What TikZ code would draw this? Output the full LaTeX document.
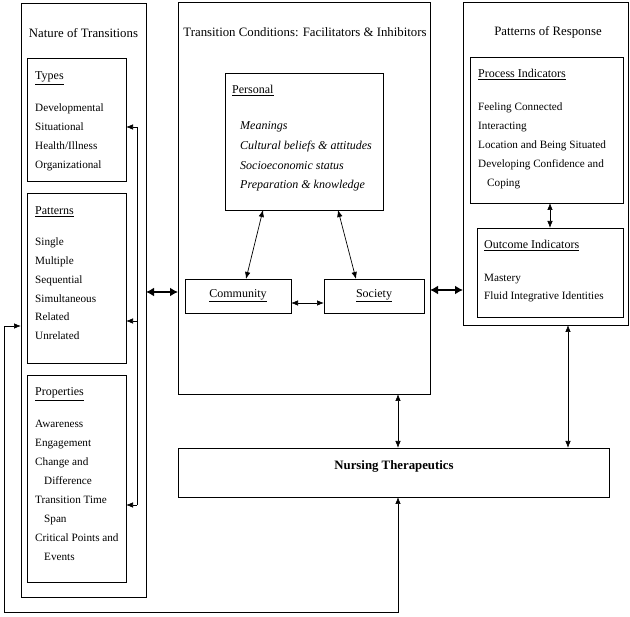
\documentclass[tikz,border=0pt]{standalone}
\usepackage{fontspec}
\setmainfont{Liberation Serif}
\usetikzlibrary{arrows.meta}
\begin{document}
\begin{tikzpicture}[x=1pt,y=-1pt,
  box/.style={draw, line width=0.8pt, inner sep=0pt, outer sep=0pt, anchor=north west},
  ttl/.style={anchor=base, inner sep=0pt, font=\fontsize{12.8}{15}\selectfont},
  hd/.style={anchor=base west, inner sep=0pt, font=\fontsize{12}{14}\selectfont},
  itm/.style={anchor=base west, inner sep=0pt, font=\fontsize{11.2}{13}\selectfont},
  itl/.style={anchor=base west, inner sep=0pt, font=\fontsize{12}{14}\selectfont\itshape},
  arr/.style={-{Latex[length=7pt,width=5.5pt]}, line width=0.7pt},
  dbl/.style={{Latex[length=7pt,width=5.5pt]}-{Latex[length=7pt,width=5.5pt]}, line width=0.7pt},
  bigdbl/.style={{Latex[length=8pt,width=9pt]}-{Latex[length=8pt,width=9pt]}, line width=1.6pt}]
\useasboundingbox (0,0) rectangle (630,617);

% ---- boxes
\node[box, minimum width=125pt, minimum height=594pt] (left) at (21,3) {};
\node[box, minimum width=99pt, minimum height=123pt] (types) at (27,58) {};
\node[box, minimum width=99pt, minimum height=170pt] (patt) at (27,193) {};
\node[box, minimum width=99pt, minimum height=207pt] (prop) at (27,375) {};
\node[box, minimum width=252pt, minimum height=392pt] (mid) at (178,2) {};
\node[box, minimum width=158pt, minimum height=137pt] (pers) at (225,73) {};
\node[box, minimum width=106pt, minimum height=34pt, font=\fontsize{12}{14}\selectfont] (comm) at (185,279) {\underline{Community}};
\node[box, minimum width=100pt, minimum height=34pt, font=\fontsize{12}{14}\selectfont] (soc) at (324,279) {\underline{Society}};
\node[box, minimum width=165pt, minimum height=323pt] (right) at (463,2) {};
\node[box, minimum width=153pt, minimum height=146pt] (proc) at (470,57) {};
\node[box, minimum width=146pt, minimum height=89pt] (outc) at (477,228) {};
\node[box, minimum width=431pt, minimum height=49pt] (nurse) at (178,448) {};

% ---- texts
\node[ttl] (tl) at (83.5,38) {Nature of Transitions};
\node[hd] (htypes) at (35,80) {\underline{Types}};
\foreach \t [count=\i from 0] in {Developmental,Situational,Health/Illness,Organizational}
  \node[itm] (ty\i) at (35,112+18.8*\i) {\t};
\node[hd] (hpatt) at (35,215) {\underline{Patterns}};
\foreach \t [count=\i from 0] in {Single,Multiple,Sequential,Simultaneous,Related,Unrelated}
  \node[itm] (pa\i) at (35,246+18.7*\i) {\t};
\node[hd] (hprop) at (35,396) {\underline{Properties}};
\foreach \t [count=\i from 0] in {Awareness,Engagement,Change and,\hspace*{9pt}Difference,Transition Time,\hspace*{9pt}Span,Critical Points and,\hspace*{9pt}Events}
  \node[itm] (pr\i) at (35,428+18.9*\i) {\t};

\node[ttl] (tm) at (305,37) {Transition Conditions: Facilitators \& Inhibitors};
\node[hd] (hpers) at (232,94) {\underline{Personal}};
\foreach \t [count=\i from 0] in {Meanings,Cultural beliefs \& attitudes,Socioeconomic status,Preparation \& knowledge}
  \node[itl] (pe\i) at (240,130+19.6*\i) {\t};

\node[ttl] (tr) at (548,36) {Patterns of Response};
\node[hd] (hproc) at (478,78) {\underline{Process Indicators}};
\foreach \t [count=\i from 0] in {Feeling Connected,Interacting,Location and Being Situated,Developing Confidence and,\hspace*{9pt}Coping}
  \node[itm] (pc\i) at (478,111+19*\i) {\t};
\node[hd] (houtc) at (484,249) {\underline{Outcome Indicators}};
\foreach \t [count=\i from 0] in {Mastery,Fluid Integrative Identities}
  \node[itm] (oc\i) at (484,282+18*\i) {\t};

\node[ttl, font=\fontsize{12.8}{15}\selectfont\bfseries] (tn) at (394,470) {Nursing Therapeutics};

% ---- connectors
\coordinate (ya) at (0,292);
\draw[bigdbl] (left.east |- ya) -- (mid.west |- ya);
\coordinate (yb) at (0,290);
\draw[bigdbl] (mid.east |- yb) -- (right.west |- yb);

\coordinate (pc) at (263,210);
\coordinate (cc) at (246,279);
\draw[dbl] (pers.south -| pc) -- (comm.north -| cc);
\coordinate (ps) at (338,210);
\coordinate (sc) at (356,279);
\draw[dbl] (pers.south -| ps) -- (soc.north -| sc);
\coordinate (yc) at (0,303);
\draw[dbl] (comm.east |- yc) -- (soc.west |- yc);

\coordinate (xpo) at (550,0);
\draw[dbl] (proc.south -| xpo) -- (outc.north -| xpo);
\coordinate (xrn) at (568,0);
\draw[dbl] (right.south -| xrn) -- (nurse.north -| xrn);
\coordinate (xmn) at (398,0);
\draw[dbl] (mid.south -| xmn) -- (nurse.north -| xmn);

% feedback loop
\coordinate (fbA) at (398,612);
\coordinate (fbB) at (4,612);
\coordinate (yf) at (0,326);
\draw[dbl] (nurse.south -| fbA) -- (fbA) -- (fbB) |- (left.west |- yf);

% inner right rail of Nature of Transitions
\coordinate (vt) at (137,127);
\coordinate (vm) at (137,321);
\coordinate (vb) at (137,505);
\draw[line width=0.7pt] (vt) -- (vb);
\draw[arr] (vt) -- (types.east |- vt);
\draw[arr] (vm) -- (patt.east |- vm);
\draw[arr] (vb) -- (prop.east |- vb);
\end{tikzpicture}
\end{document}
